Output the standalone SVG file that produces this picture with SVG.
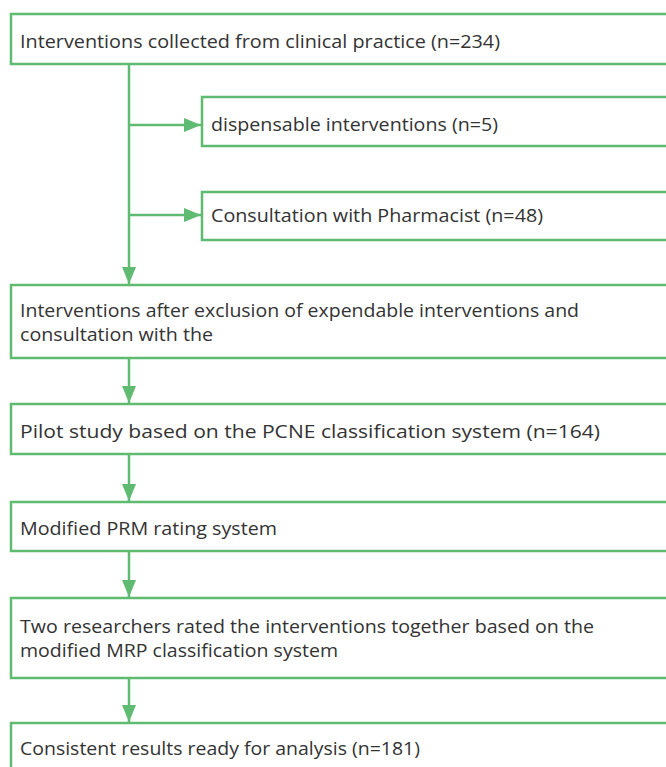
<svg xmlns="http://www.w3.org/2000/svg" width="666" height="767" viewBox="0 0 666 767">
<style>
.box{fill:#fff;stroke:#5fbb72;stroke-width:2.5}
.ln{fill:none;stroke:#5fbb72;stroke-width:2.5}
text{font-family:"Open Sans","Liberation Sans",sans-serif;font-size:17.5px;fill:#333}
</style>
<defs>
<marker id="ah" markerUnits="userSpaceOnUse" markerWidth="18" markerHeight="14" refX="17" refY="7" orient="auto">
<path d="M0,0 L17,7 L0,14 Z" fill="#5fbb72"/>
</marker>
</defs>
<rect width="666" height="767" fill="#fff"/>
<g id="connectors">
<path class="ln" d="M129,64 V284" marker-end="url(#ah)"/>
<path class="ln" d="M129,125 H201" marker-end="url(#ah)"/>
<path class="ln" d="M129,215 H201" marker-end="url(#ah)"/>
<path class="ln" d="M129,358 V403" marker-end="url(#ah)"/>
<path class="ln" d="M129,454 V501" marker-end="url(#ah)"/>
<path class="ln" d="M129,551 V597" marker-end="url(#ah)"/>
<path class="ln" d="M129,678 V722" marker-end="url(#ah)"/>
</g>
<g id="n1"><rect class="box" x="11" y="14" width="700" height="50"/><text x="20" y="48" textLength="480" lengthAdjust="spacingAndGlyphs">Interventions collected from clinical practice (n=234)</text></g>
<g id="n2"><rect class="box" x="202" y="97" width="500" height="49"/><text x="211" y="131" textLength="287" lengthAdjust="spacingAndGlyphs">dispensable interventions (n=5)</text></g>
<g id="n3"><rect class="box" x="202" y="192" width="500" height="48"/><text x="211" y="222" textLength="332" lengthAdjust="spacingAndGlyphs">Consultation with Pharmacist (n=48)</text></g>
<g id="n4"><rect class="box" x="11" y="285" width="700" height="73"/><text x="20" y="317" textLength="559" lengthAdjust="spacingAndGlyphs">Interventions after exclusion of expendable interventions and</text><text x="20" y="341" textLength="193" lengthAdjust="spacingAndGlyphs">consultation with the</text></g>
<g id="n5"><rect class="box" x="11" y="404" width="700" height="50"/><text x="20" y="438" textLength="580" lengthAdjust="spacingAndGlyphs">Pilot study based on the PCNE classification system (n=164)</text></g>
<g id="n6"><rect class="box" x="11" y="502" width="700" height="49"/><text x="20" y="535" textLength="257" lengthAdjust="spacingAndGlyphs">Modified PRM rating system</text></g>
<g id="n7"><rect class="box" x="11" y="598" width="700" height="80"/><text x="20" y="633" textLength="574" lengthAdjust="spacingAndGlyphs">Two researchers rated the interventions together based on the</text><text x="20" y="657" textLength="318" lengthAdjust="spacingAndGlyphs">modified MRP classification system</text></g>
<g id="n8"><rect class="box" x="11" y="723" width="700" height="80"/><text x="20" y="755" textLength="400" lengthAdjust="spacingAndGlyphs">Consistent results ready for analysis (n=181)</text></g>
</svg>
